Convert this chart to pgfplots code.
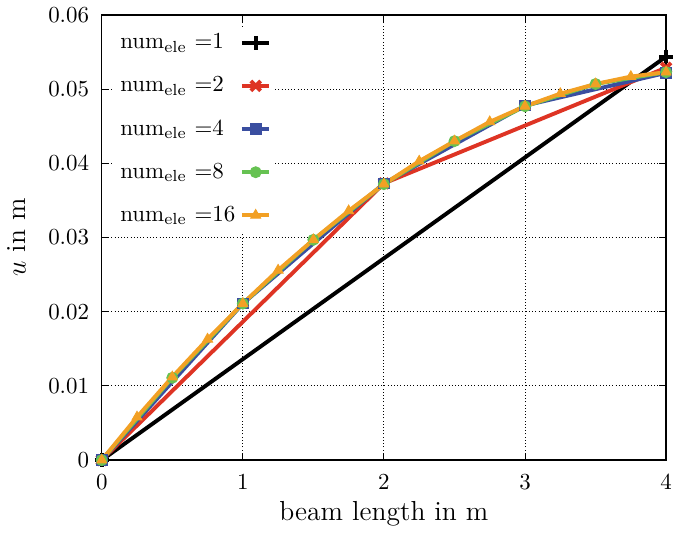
\documentclass[border=0pt]{standalone}
\usepackage{pgfplots}
\pgfplotsset{compat=1.18}
\definecolor{cred}{RGB}{222,52,36}
\definecolor{cblue}{RGB}{58,78,160}
\definecolor{cgreen}{RGB}{102,194,82}
\definecolor{corange}{RGB}{242,160,36}
\begin{document}
\begin{tikzpicture}
\begin{axis}[
  scale only axis, width=246pt, height=194pt,
  xmin=0, xmax=4, ymin=0, ymax=0.06,
  xtick={0,1,2,3,4}, ytick={0,0.01,0.02,0.03,0.04,0.05,0.06},
  scaled y ticks=false,
  yticklabel style={/pgf/number format/fixed, /pgf/number format/precision=2, xshift=-2pt},
  xticklabel style={inner xsep=0pt, yshift=-3pt},
  tick align=inside, major tick length=3pt,
  tick style={black, thin},
  grid=major, grid style={black, densely dotted, line width=0.4pt},
  axis line style={black, line width=0.6pt},
  xlabel={beam length in m}, ylabel={$u$ in m},
  label style={font=\large},
  xlabel style={yshift=2pt}, ylabel style={yshift=3pt},
  legend plot pos=right, legend cell align=left,
  legend style={draw=none, fill=white, at={(0.02,0.975)}, anchor=north west,
    row sep=6.6pt, font=\normalsize, inner sep=1pt},
  legend image code/.code={\draw[mark repeat=2, mark phase=2] plot coordinates {(0cm,0cm) (0.21cm,0cm) (0.42cm,0cm)};},
  every axis plot/.append style={line width=1.7pt},
]
\addplot[black, mark=+, mark size=3pt, mark options={line width=1.7pt}] coordinates {(0,0) (4,0.0544)};
\addlegendentry{num$_\mathrm{ele}$ =1}
\addplot[cred, mark=x, mark size=3pt, mark options={line width=1.7pt}] coordinates {(0,0) (2,0.0373) (4,0.0529)};
\addlegendentry{num$_\mathrm{ele}$ =2}
\addplot[cblue, mark=square*, mark size=2.3pt, mark options={line width=0.4pt}] coordinates {(0,0) (1,0.0211) (2,0.0373) (3,0.0478) (4,0.0522)};
\addlegendentry{num$_\mathrm{ele}$ =4}
\addplot[cgreen, mark=*, mark size=2.4pt, mark options={line width=0.4pt}] coordinates {(0,0) (0.5,0.0111) (1,0.0211) (1.5,0.0297) (2,0.0372) (2.5,0.0430) (3,0.0477) (3.5,0.0507) (4,0.0523)};
\addlegendentry{num$_\mathrm{ele}$ =8}
\addplot[corange, mark=triangle*, mark size=2.5pt, mark options={line width=0.4pt}] coordinates {(0,0) (0.25,0.0058) (0.5,0.0112) (0.75,0.0163) (1,0.0211) (1.25,0.0256) (1.5,0.0297) (1.75,0.0336) (2,0.0372) (2.25,0.0403) (2.5,0.0430) (2.75,0.0456) (3,0.0477) (3.25,0.0494) (3.5,0.0507) (3.75,0.0517) (4,0.0523)};
\addlegendentry{num$_\mathrm{ele}$ =16}
\end{axis}
\end{tikzpicture}
\end{document}
